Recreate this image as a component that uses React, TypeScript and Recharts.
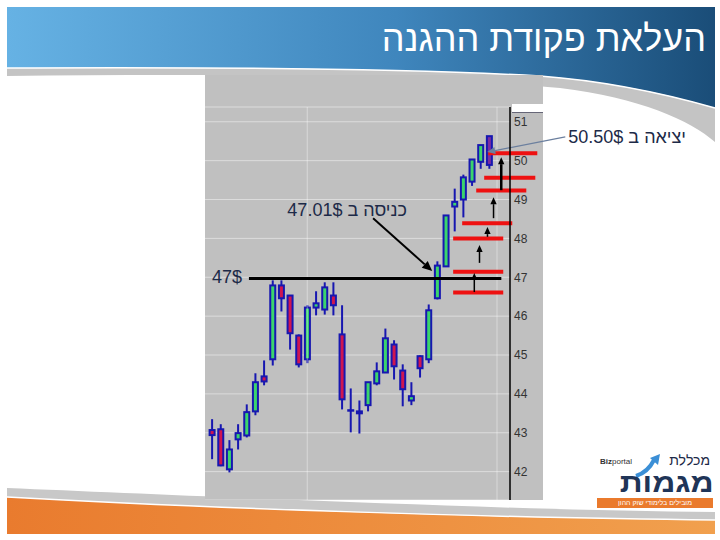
import React from 'react';
import { ComposedChart, Bar, XAxis, YAxis, CartesianGrid, ReferenceLine } from 'recharts';

// daily candles
const OPEN = [43.07, 43.09, 42.06, 42.83, 42.93, 43.55, 44.45, 44.89, 46.79, 46.53, 45.5, 44.89, 46.22, 46.17, 46.53, 45.53, 43.57, 43.55, 43.71, 44.27, 44.55, 45.27, 44.6, 43.83, 44.97, 44.89, 46.46, 47.28, 48.82, 49.0, 49.46, 49.97, 50.63];
const HIGH = [43.35, 43.22, 42.81, 43.22, 43.73, 44.53, 44.86, 46.92, 46.92, 46.53, 45.53, 46.28, 46.64, 46.87, 46.87, 46.28, 44.14, 43.83, 44.3, 44.81, 45.68, 45.38, 44.76, 44.3, 44.99, 46.3, 47.41, 48.59, 49.28, 49.64, 50.03, 50.4, 50.63];
const LOW = [42.32, 42.14, 41.98, 42.57, 42.88, 43.45, 44.22, 44.73, 46.12, 45.14, 44.68, 44.79, 46.02, 46.04, 46.02, 43.6, 43.01, 42.98, 43.55, 44.22, 44.55, 44.37, 43.68, 43.71, 44.42, 44.79, 46.43, 47.28, 48.18, 48.54, 49.35, 49.79, 49.79];
const CLOSE = [42.94, 42.16, 42.57, 42.99, 43.53, 44.3, 44.32, 46.79, 46.46, 45.56, 44.76, 46.22, 46.33, 46.74, 46.28, 43.86, 43.58, 43.5, 44.3, 44.58, 45.43, 44.71, 44.12, 43.94, 44.66, 46.15, 47.3, 48.59, 48.94, 49.57, 50.03, 50.4, 49.89];

const PRICE_TICKS = [42, 43, 44, 45, 46, 47, 48, 49, 50, 51];
const GRID_X = [11, 32.9];

// trailing stop levels (red) and the moves between them
const STOP_LEVELS = [46.61, 47.14, 48.0, 48.39, 49.23, 49.56, 50.19];
const STOP_FROM = [27.84, 27.84, 27.84, 28.88, 30.5, 31.42, 31.89];
const STOP_TO = [33.62, 33.62, 33.62, 34.66, 36.28, 37.32, 37.55];
const STEP_X = [30.28, 30.88, 31.8, 32.5, 33.39];
const STEP_FROM = [46.62, 47.37, 48.04, 48.52, 49.24];
const STEP_TO = [47.11, 47.83, 48.29, 49.06, 50.09];

const BREAKOUT = 46.97;
const BREAKOUT_SPAN = [4.27, 33.4];
const ENTRY_ARROW = [[18.6, 48.52], [25.42, 47.16]];
const EXIT_ARROW = [[40.78, 50.61], [31.77, 50.22]];

const LAST = OPEN.length - 1;
const candles = OPEN.map((o, i) => ({
  idx: i,
  open: o,
  high: HIGH[i],
  low: LOW[i],
  close: CLOSE[i],
  range: [LOW[i], HIGH[i]],
}));

const FONT = '"Liberation Sans", Arial, "DejaVu Sans", sans-serif';
const NAVY = '#1d2a48';

function Candle(props: any) {
  const { x, y, width, height, payload, index } = props;
  const top = Math.min(y, y + height);
  const h = Math.abs(height);
  const span = payload.high - payload.low || 1;
  const py = (v: number) => top + ((payload.high - v) / span) * h;
  const cx = x + width / 2;
  const bTop = py(Math.max(payload.open, payload.close));
  const bBot = py(Math.min(payload.open, payload.close));
  const up = payload.close >= payload.open;
  const fill = index === LAST ? '#7a2ca0' : up ? '#3bd46c' : '#cf1650';
  return (
    <g>
      <line x1={cx} x2={cx} y1={top} y2={top + h} stroke="#1717b0" strokeWidth={2} />
      <rect x={x + 1} y={bTop} width={width - 2} height={Math.max(bBot - bTop, 0.5)} fill={fill} stroke="#1717b0" strokeWidth={2} />
    </g>
  );
}

const arrow = (color: string, w: number, head: number) => (p: any) => {
  const { x1, y1, x2, y2 } = p;
  const a = Math.atan2(y2 - y1, x2 - x1);
  const bx = x2 - Math.cos(a) * head;
  const by = y2 - Math.sin(a) * head;
  const nx = -Math.sin(a) * head * 0.45;
  const ny = Math.cos(a) * head * 0.45;
  return (
    <g>
      <line x1={x1} y1={y1} x2={bx} y2={by} stroke={color} strokeWidth={w} />
      <polygon points={`${x2},${y2} ${bx + nx},${by + ny} ${bx - nx},${by - ny}`} fill={color} />
    </g>
  );
};

function Logo() {
  return (
    <div style={{ position: 'absolute', left: 596, top: 452, width: 120, height: 58 }}>
      <div style={{ position: 'absolute', right: 6, top: 1, fontFamily: FONT, fontSize: 14, lineHeight: '14px', color: NAVY, direction: 'rtl' }}>מכללת</div>
      <div style={{ position: 'absolute', left: 4, top: 6, fontFamily: FONT, fontSize: 8, lineHeight: '8px', color: '#333' }}>
        <b>Biz</b>portal
      </div>
      <svg style={{ position: 'absolute', left: 0, top: 0 }} width={120} height={58}>
        <path d="M40 24 Q52 20 58 8" stroke="#3b8fd6" strokeWidth={4} fill="none" />
        <polygon points="54,6 64,2 62,13" fill="#3b8fd6" />
      </svg>
      <div style={{ position: 'absolute', right: 2, top: 20, fontFamily: FONT, fontSize: 27, lineHeight: '23px', fontWeight: 900, color: '#1f3558', direction: 'rtl', transform: 'scaleX(1.18)', transformOrigin: 'right center' }}>מגמות</div>
      <div style={{ position: 'absolute', left: 1, top: 46, width: 116, height: 10, background: '#ea7a2c', color: '#fff', fontFamily: FONT, fontSize: 7, lineHeight: '10px', textAlign: 'center', direction: 'rtl' }}>
        מובילים בלימודי שוק ההון
      </div>
    </div>
  );
}

export default function App() {
  return (
    <div style={{ position: 'absolute', left: 0, top: 0, width: 720, height: 540, background: '#fff', overflow: 'hidden' }}>
      {/* slide decoration */}
      <svg style={{ position: 'absolute', left: 0, top: 0 }} width={720} height={540}>
        <defs>
          <linearGradient id="hdr" x1="0" x2="1" y1="0" y2="0">
            <stop offset="0" stopColor="#66b2e4" />
            <stop offset="0.55" stopColor="#3f86bd" />
            <stop offset="1" stopColor="#1a4d78" />
          </linearGradient>
          <linearGradient id="ftr" x1="0" x2="1" y1="0" y2="0">
            <stop offset="0" stopColor="#e97b2e" />
            <stop offset="1" stopColor="#f1a04e" />
          </linearGradient>
        </defs>
        <path d="M7 76 C200 74 420 74 560 88 C640 98 690 120 715 142 V108 C680 98 620 82 540 76 C400 68 200 67 7 68 Z" fill="#c4c4c4" />
        <path d="M7 7 H715 V108 C680 98 620 82 540 76 C400 68 200 67 7 68 Z" fill="url(#hdr)" />
        <path d="M7 68 C200 67 400 68 540 76 C620 82 680 98 715 108" stroke="#fff" strokeWidth={1.5} fill="none" />
        <path d="M7 488 C200 496 500 510 715 512 V520 C500 518 200 508 7 497 Z" fill="#c8c8c8" />
        <path d="M7 497 C200 508 500 518 715 520 V534 H7 Z" fill="url(#ftr)" />
        <path d="M7 497 C200 508 500 518 715 520" stroke="#fff" strokeWidth={1.5} fill="none" />
      </svg>
      <div style={{ position: 'absolute', right: 14, top: 19, fontFamily: FONT, fontSize: 36, lineHeight: '40px', color: '#fff', direction: 'rtl', whiteSpace: 'nowrap' }}>
        העלאת פקודת ההגנה
      </div>

      {/* chart panel */}
      <div style={{ position: 'absolute', left: 205, top: 75, width: 338, height: 425, background: '#c0c0c0' }} />
      <div style={{ position: 'absolute', left: 512, top: 104, width: 31, height: 8, background: '#fff', borderBottom: '1px solid #667' }} />
      <div style={{ position: 'absolute', left: 205, top: 75 }}>
        <ComposedChart width={515} height={425} data={candles} margin={{ top: 32, right: 177, bottom: 0, left: 0 }}>
          <CartesianGrid vertical={false} stroke="rgba(255,255,255,0.45)" />
          <XAxis dataKey="idx" type="number" domain={[-0.8, 34.4]} hide allowDataOverflow />
          <YAxis
            orientation="right"
            domain={[41.27, 51.38]}
            ticks={PRICE_TICKS}
            width={33}
            allowDataOverflow
            axisLine={{ stroke: '#000', strokeWidth: 1.5 }}
            tickLine={false}
            tickSize={2}
            tickMargin={2}
            tick={{ fill: '#333', fontSize: 12, fontFamily: FONT }}
          />
          {GRID_X.map((gx) => (
            <ReferenceLine key={gx} x={gx} stroke="rgba(255,255,255,0.4)" />
          ))}
          <Bar dataKey="range" barSize={7} shape={Candle} isAnimationActive={false} />
          <ReferenceLine
            segment={[{ x: BREAKOUT_SPAN[0], y: BREAKOUT }, { x: BREAKOUT_SPAN[1], y: BREAKOUT }]}
            stroke="#000"
            strokeWidth={3}
            ifOverflow="visible"
          />
          {STOP_LEVELS.map((lv, i) => (
            <ReferenceLine
              key={'s' + i}
              segment={[{ x: STOP_FROM[i], y: lv }, { x: STOP_TO[i], y: lv }]}
              stroke="#ee1111"
              strokeWidth={4}
              ifOverflow="visible"
            />
          ))}
          {STEP_X.map((sx, i) => (
            <ReferenceLine
              key={'a' + i}
              segment={[{ x: sx, y: STEP_FROM[i] }, { x: sx, y: STEP_TO[i] }]}
              shape={arrow('#000', i === STEP_X.length - 1 ? 2.5 : 1.5, 7)}
              ifOverflow="visible"
            />
          ))}
          <ReferenceLine
            segment={ENTRY_ARROW.map(([x, y]) => ({ x, y }))}
            shape={arrow('#000', 2, 10)}
            ifOverflow="visible"
          />
          <ReferenceLine
            segment={EXIT_ARROW.map(([x, y]) => ({ x, y }))}
            shape={arrow('#6b7f9e', 1.2, 8)}
            ifOverflow="visible"
          />
        </ComposedChart>
      </div>

      {/* annotations */}
      <div style={{ position: 'absolute', left: 212, top: 267, fontFamily: FONT, fontSize: 18, color: NAVY }}>47$</div>
      <div style={{ position: 'absolute', right: 313, top: 200, fontFamily: FONT, fontSize: 18, color: NAVY, direction: 'rtl', whiteSpace: 'nowrap' }}>
        כניסה ב 47.01$
      </div>
      <div style={{ position: 'absolute', right: 34, top: 127, fontFamily: FONT, fontSize: 18, color: NAVY, direction: 'rtl', whiteSpace: 'nowrap' }}>
        יציאה ב 50.50$
      </div>
      <Logo />
    </div>
  );
}
